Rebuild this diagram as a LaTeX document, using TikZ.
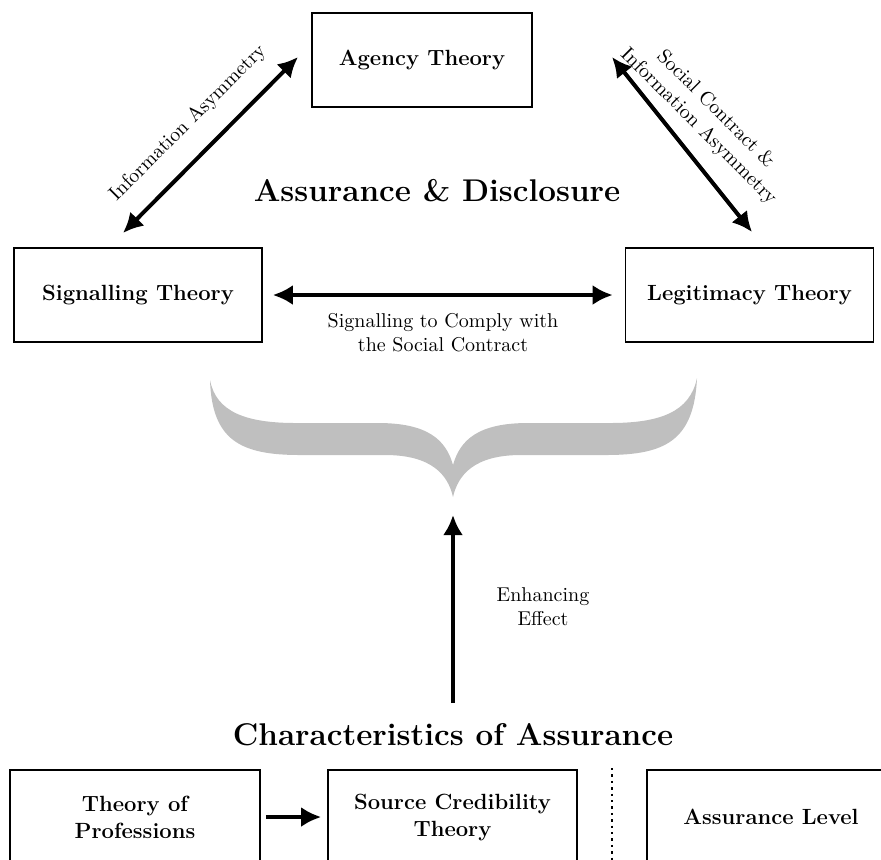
\documentclass[tikz,border=0pt]{standalone}
\usetikzlibrary{arrows.meta}
\begin{document}
\begin{tikzpicture}[x=0.5pt,y=-0.5pt,
  box/.style={draw, line width=0.8pt, minimum height=47pt, align=center, font=\fontsize{11}{13.5}\selectfont\bfseries, inner sep=0pt},
  arr/.style={line width=2pt, {Latex[length=10pt,width=10pt]}-{Latex[length=10pt,width=10pt]}},
  arrone/.style={line width=2pt, -{Latex[length=10pt,width=10pt]}},
  lbl/.style={align=center, inner sep=1pt},
  ttl/.style={font=\fontsize{15.7}{19}\selectfont\bfseries, inner sep=0pt}]
\useasboundingbox (0,0) rectangle (881,859);
\clip (0,0) rectangle (881,859);
% top boxes
\node[box, minimum width=110pt] (agency) at (422,60) {Agency Theory};
\node[box, minimum width=124pt] (sig) at (138,295) {Signalling Theory};
\node[box, minimum width=124pt] (leg) at (749.5,295) {Legitimacy Theory};
\node[ttl] (t1) at (437,191) {Assurance \& Disclosure};
% horizontal arrow
\draw[arr, shorten <=5pt, shorten >=6pt] (sig) -- (leg);
\node[lbl] (l3) at (443,333) {Signalling to Comply with\\the Social Contract};
% diagonal arrows
\coordinate (a1) at (123,233);
\coordinate (a2) at (298,57);
\draw[arr] (a1) -- (a2);
\node[lbl, rotate=45] (l1) at (188,123) {Information Asymmetry};
\coordinate (b1) at (612,57);
\coordinate (b2) at (752,232);
\draw[arr] (b1) -- (b2);
\node[lbl, rotate=-45] (l2) at (707,118) {Social Contract \&\\Information Asymmetry};
% brace
\fill[gray!50] (210,380) .. controls (212,440) and (240,455) .. (300,455)
  -- (385,455) .. controls (432,455) and (448,475) .. (453,497)
  .. controls (458,475) and (474,455) .. (521,455)
  -- (606,455) .. controls (666,455) and (694,440) .. (697,378)
  .. controls (690,412) and (660,423) .. (610,423)
  -- (528,423) .. controls (478,423) and (460,440) .. (453,465)
  .. controls (446,440) and (428,423) .. (378,423)
  -- (296,423) .. controls (246,423) and (216,412) .. (210,380) -- cycle;
% vertical arrow
\coordinate (v1) at (453,703);
\coordinate (v2) at (453,515);
\draw[arrone] (v1) -- (v2);
\node[lbl] (l4) at (543,607) {Enhancing\\Effect};
\node[ttl] (t2) at (453,735) {Characteristics of Assurance};
% bottom boxes
\node[box, minimum width=125pt] (prof) at (135,817) {Theory of\\Professions};
\node[box, minimum width=124.5pt] (src) at (452.5,817) {Source Credibility\\Theory};
\node[box, minimum width=124pt] (lvl) at (771,817) {Assurance Level};
\draw[arrone, shorten <=2.5pt, shorten >=3pt] (prof) -- (src);
\coordinate (d1) at (612,768);
\coordinate (d2) at (612,880);
\draw[dotted, line width=1.2pt] (d1) -- (d2);
\end{tikzpicture}
\end{document}
